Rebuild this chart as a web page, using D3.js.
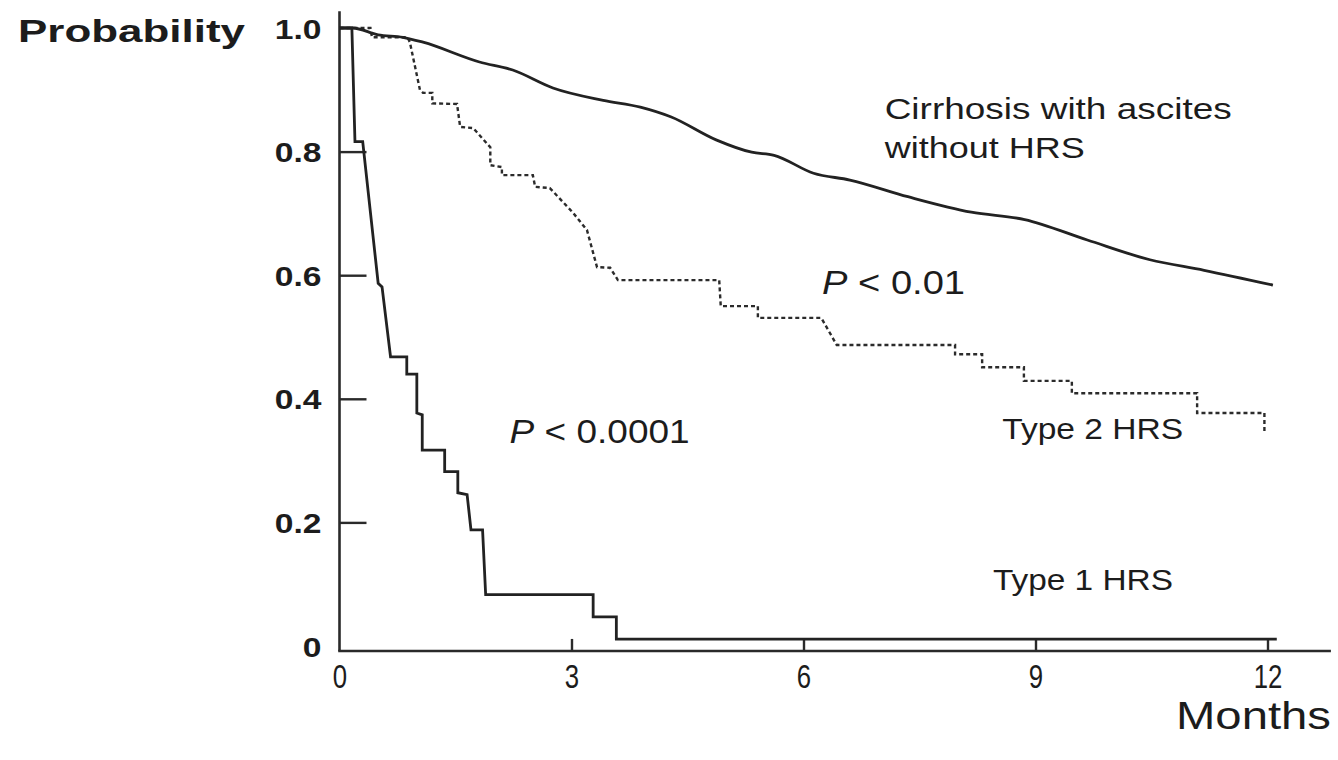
<!DOCTYPE html>
<html>
<head>
<meta charset="utf-8">
<script src="https://cdn.jsdelivr.net/npm/d3@7/dist/d3.min.js"></script>
<style>
  html, body { margin: 0; padding: 0; background: #fff; }
  svg { display: block; }
  text { font-family: "Liberation Sans", Arial, Helvetica, sans-serif; fill: #1c1c1c; }
</style>
</head>
<body>
<svg id="chart" width="1338" height="760"></svg>
<script>
// ---------------- data ----------------
const xTicks = [0, 3, 6, 9, 12];
const xTickLabels = ["0", "3", "6", "9", "12"];
const yTicks = [0, 0.2, 0.4, 0.6, 0.8, 1.0];
const yTickLabels = ["0", "0.2", "0.4", "0.6", "0.8", "1.0"];

// Cirrhosis with ascites without HRS (smooth curve): months, probability
const noHrsMonths = [0, 0.17, 0.50, 0.82, 1.08, 1.81, 2.24, 2.76, 3.41, 3.89, 4.29, 4.87, 5.33, 5.62, 6.13, 6.60, 7.35, 8.17, 8.86, 9.67, 10.48, 11.18, 12.07];
const noHrsProb   = [1.0, 1.0, 0.989, 0.985, 0.977, 0.945, 0.932, 0.903, 0.883, 0.872, 0.856, 0.819, 0.799, 0.794, 0.765, 0.754, 0.727, 0.702, 0.690, 0.657, 0.625, 0.608, 0.584];

// Type 1 HRS survival curve vertices: months, probability
const type1Months = [0, 0.16, 0.20, 0.30, 0.50, 0.55, 0.66, 0.87, 0.87, 1.00, 1.00, 1.07, 1.07, 1.36, 1.36, 1.53, 1.53, 1.65, 1.70, 1.85, 1.89, 3.28, 3.28, 3.58, 3.58, 12.12];
const type1Prob   = [1.0, 1.0, 0.816, 0.816, 0.587, 0.581, 0.468, 0.468, 0.440, 0.440, 0.377, 0.374, 0.317, 0.317, 0.282, 0.282, 0.248, 0.245, 0.188, 0.188, 0.083, 0.083, 0.047, 0.047, 0.011, 0.011];

// Type 2 HRS survival curve vertices: months, probability
const type2Months = [0, 0.40, 0.42, 0.88, 0.91, 1.04, 1.08, 1.20, 1.20, 1.52, 1.56, 1.73, 1.95, 1.95, 2.10, 2.10, 2.50, 2.53, 2.72, 3.02, 3.20, 3.33, 3.50, 3.60, 4.91, 4.93, 5.41, 5.41, 6.23, 6.43, 7.96, 7.96, 8.31, 8.31, 8.85, 8.85, 9.47, 9.47, 11.09, 11.09, 11.96, 11.96];
const type2Prob   = [1.0, 1.0, 0.985, 0.985, 0.977, 0.900, 0.895, 0.895, 0.878, 0.877, 0.840, 0.838, 0.807, 0.778, 0.775, 0.762, 0.762, 0.743, 0.741, 0.701, 0.673, 0.613, 0.612, 0.592, 0.592, 0.550, 0.550, 0.531, 0.531, 0.487, 0.487, 0.472, 0.472, 0.451, 0.451, 0.429, 0.429, 0.409, 0.409, 0.377, 0.377, 0.348];

// annotations
const annotations = [
  { text: "Cirrhosis with ascites", m: 7.05, p: 0.853, size: 29, width: 347 },
  { text: "without HRS", m: 7.05, p: 0.789, size: 29, width: 200 },
  { text: "Type 2 HRS", m: 8.57, p: 0.335, size: 29, width: 181 },
  { text: "Type 1 HRS", m: 8.45, p: 0.090, size: 29, width: 180 }
];
const pAnnotations = [
  { rest: " < 0.01", m: 6.24, p: 0.570, size: 34, width: 143 },
  { rest: " < 0.0001", m: 2.20, p: 0.329, size: 34, width: 180 }
];

// ---------------- chart ----------------
const svg = d3.select("#chart");
const x = d3.scaleLinear().domain([0, 12]).range([339.5, 1267.5]);
const y = d3.scaleLinear().domain([0, 1]).range([646, 28]);
const axisColor = "#2a2a2a";

// axis lines (extend slightly beyond the data range, as in the original)
const xAxisProb = -0.008, xAxisEnd = 12.82, yAxisTop = 1.027;
svg.append("line")
  .attr("x1", x(0)).attr("x2", x(0))
  .attr("y1", y(yAxisTop)).attr("y2", y(xAxisProb))
  .attr("stroke", axisColor).attr("stroke-width", 2.6);
svg.append("line")
  .attr("x1", x(0) - 1.3).attr("x2", x(xAxisEnd))
  .attr("y1", y(xAxisProb)).attr("y2", y(xAxisProb))
  .attr("stroke", axisColor).attr("stroke-width", 2.6);

// y axis ticks and labels
const yAxis = d3.axisLeft(y).tickValues(yTicks)
  .tickFormat((d, i) => yTickLabels[i]).tickSize(-27).tickPadding(18).tickSizeOuter(0);
const gy = svg.append("g").attr("transform", `translate(${x(0)},0)`).call(yAxis);
gy.attr("font-size", null).attr("font-family", null);
gy.select(".domain").remove();
gy.selectAll(".tick line").attr("stroke", axisColor).attr("stroke-width", 2.4)
  .filter(d => d === 0 || d === 1).remove();
gy.selectAll(".tick text")
  .style("font-size", "28px").style("font-weight", "bold").attr("fill", "#1c1c1c")
  .attr("dy", "0.36em")
  .each(function(d) {
    const w = this.getComputedTextLength();
    d3.select(this).attr("textLength", w * 1.2).attr("lengthAdjust", "spacingAndGlyphs");
  });

// x axis ticks and labels
const xAxis = d3.axisBottom(x).tickValues(xTicks)
  .tickFormat((d, i) => xTickLabels[i]).tickSize(-12).tickPadding(14).tickSizeOuter(0);
const gx = svg.append("g").attr("transform", `translate(0,${y(xAxisProb)})`).call(xAxis);
gx.attr("font-size", null).attr("font-family", null);
gx.select(".domain").remove();
gx.selectAll(".tick line").attr("stroke", axisColor).attr("stroke-width", 2.4)
  .filter(d => d === 0).remove();
gx.selectAll(".tick text")
  .style("font-size", "33px").attr("fill", "#1c1c1c")
  .each(function(d) {
    const w = this.getComputedTextLength();
    d3.select(this).attr("textLength", w * 0.78).attr("lengthAdjust", "spacingAndGlyphs");
  });

// axis titles
svg.append("text").text("Probability")
  .attr("x", 18).attr("y", 42)
  .style("font-size", "32px").style("font-weight", "bold")
  .attr("textLength", 227).attr("lengthAdjust", "spacingAndGlyphs");
svg.append("text").text("Months")
  .attr("x", 1331).attr("y", 729).attr("text-anchor", "end")
  .style("font-size", "38px")
  .attr("textLength", 155).attr("lengthAdjust", "spacingAndGlyphs");

// curves
const line = d3.line().x(d => x(d[0])).y(d => y(d[1]));
const lineSmooth = d3.line().x(d => x(d[0])).y(d => y(d[1])).curve(d3.curveMonotoneX);

svg.append("path")
  .datum(d3.zip(type2Months, type2Prob))
  .attr("d", line)
  .attr("fill", "none").attr("stroke", "#2b2b2b").attr("stroke-width", 2.4)
  .attr("stroke-dasharray", "4,3");

svg.append("path")
  .datum(d3.zip(noHrsMonths, noHrsProb))
  .attr("d", lineSmooth)
  .attr("fill", "none").attr("stroke", "#222").attr("stroke-width", 2.8);

svg.append("path")
  .datum(d3.zip(type1Months, type1Prob))
  .attr("d", line)
  .attr("fill", "none").attr("stroke", "#222").attr("stroke-width", 2.8);

// annotations
annotations.forEach(a => {
  svg.append("text").text(a.text)
    .attr("x", x(a.m)).attr("y", y(a.p))
    .style("font-size", a.size + "px")
    .attr("textLength", a.width).attr("lengthAdjust", "spacingAndGlyphs");
});
pAnnotations.forEach(a => {
  const t = svg.append("text")
    .attr("x", x(a.m)).attr("y", y(a.p))
    .style("font-size", a.size + "px")
    .attr("textLength", a.width).attr("lengthAdjust", "spacingAndGlyphs");
  t.append("tspan").text("P").style("font-style", "italic");
  t.append("tspan").text(a.rest);
});
</script>
</body>
</html>
